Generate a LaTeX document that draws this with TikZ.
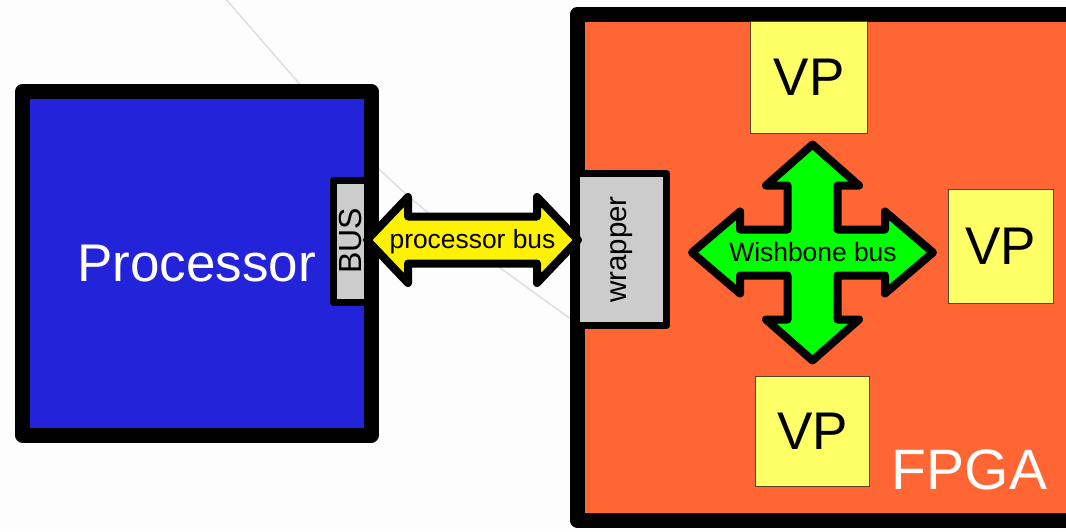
\documentclass[tikz,border=0pt]{standalone}
\usepackage{fontspec}
\setmainfont{Liberation Sans}
\definecolor{cpublue}{RGB}{35,35,218}
\definecolor{fpgaorange}{RGB}{255,102,51}
\definecolor{vpyellow}{RGB}{255,255,102}
\definecolor{vpedge}{RGB}{80,70,40}
\definecolor{portgray}{RGB}{204,204,204}
\definecolor{bgwhite}{RGB}{253,253,253}
\definecolor{faintline}{RGB}{222,222,222}
\newcommand\bigfont{\fontsize{53}{60}\selectfont}
\newcommand\fpgafont{\fontsize{57}{64}\selectfont}
\newcommand\busfont{\fontsize{32}{36}\selectfont}
\newcommand\wrapfont{\fontsize{29.5}{34}\selectfont}
\newcommand\lblfont{\fontsize{26.4}{30}\selectfont}
\tikzset{
  heavy/.style={draw=black, line width=15pt, line join=round},
  port/.style={draw=black, fill=portgray, line width=7pt, line join=round, outer sep=0pt, inner sep=0pt},
  vpbox/.style={draw=vpedge, fill=vpyellow, line width=1pt, inner sep=0pt, outer sep=0pt, font=\bigfont},
  busarrow/.style={draw=black, line width=8pt, line join=round},
  txt/.style={inner sep=0pt, outer sep=0pt},
}
\begin{document}
\begin{tikzpicture}[x=1pt,y=-1pt]
\path[use as bounding box, clip] (0,0) rectangle (1066,531);
\fill[bgwhite] (0,0) rectangle (1066,531);
% faint background stroke
\draw[faintline, line width=1.5pt] (225,-2) .. controls (390,189) .. (575,322);

% processor block with its bus port
\node[fill=cpublue, inner sep=0pt, outer sep=0pt, minimum width=348.5pt, minimum height=343.5pt,
      text=white, font=\bigfont] (cpu) at (196.75,263.25) {Processor};
\node[port, minimum width=37.5pt, minimum height=122pt] (bus) at (352.25,241.5) {};
\draw[heavy] (cpu.north west) rectangle (cpu.south east);
\node[txt, rotate=90, anchor=base, font=\busfont] (buslabel) at (361.5,240.8) {BUS};

% FPGA block
\node[heavy, fill=fpgaorange, inner sep=0pt, outer sep=0pt, minimum width=507.5pt, minimum height=506.5pt]
      (fpga) at (831.25,267.25) {};
\node[txt, anchor=base, text=white, font=\fpgafont] (fpgalabel) at (969.5,489) {FPGA};

% virtual peripherals
\node[vpbox, minimum width=117pt, minimum height=111.6pt] (vp1) at (809.2,77.5) {VP};
\node[vpbox, minimum width=105pt, minimum height=114.3pt] (vp2) at (1000.8,246.2) {VP};
\node[vpbox, minimum width=114.3pt, minimum height=110pt] (vp3) at (812.8,431.7) {VP};

% wrapper port
\node[port, rotate=90, minimum width=152pt, minimum height=90pt, font=\wrapfont] (wrap) at (621.5,249.5) {wrapper};

% processor bus: double arrow between the two ports
\coordinate (pbl) at (367,240);
\coordinate (pbr) at (578,240);
\draw[busarrow, fill=yellow] (pbl) -- ++(41,-43) -- ++(0,19.5) -- ++(129,0) -- ++(0,-19.5) -- (pbr)
      -- ++(-41,43) -- ++(0,-19.5) -- ++(-129,0) -- ++(0,19.5) -- cycle;
\node[txt, anchor=base, font=\lblfont] (pblabel) at (472.5,248) {processor bus};

% Wishbone bus: four-way arrow
\coordinate (wb) at (812.5,252.5);
\begin{scope}[shift={(wb)}]
\draw[busarrow, fill=green]
  (0,-108) -- (46.5,-67) -- (25,-67) -- (25,-23) -- (72.5,-23) -- (72.5,-41) -- (120.5,0)
  -- (72.5,41) -- (72.5,23) -- (25,23) -- (25,67) -- (46.5,67) -- (0,108)
  -- (-46.5,67) -- (-25,67) -- (-25,23) -- (-72.5,23) -- (-72.5,41) -- (-120.5,0)
  -- (-72.5,-41) -- (-72.5,-23) -- (-25,-23) -- (-25,-67) -- (-46.5,-67) -- cycle;
\end{scope}
\node[txt, anchor=base, font=\lblfont] (wblabel) at (813,261.5) {Wishbone bus};
\end{tikzpicture}
\end{document}
